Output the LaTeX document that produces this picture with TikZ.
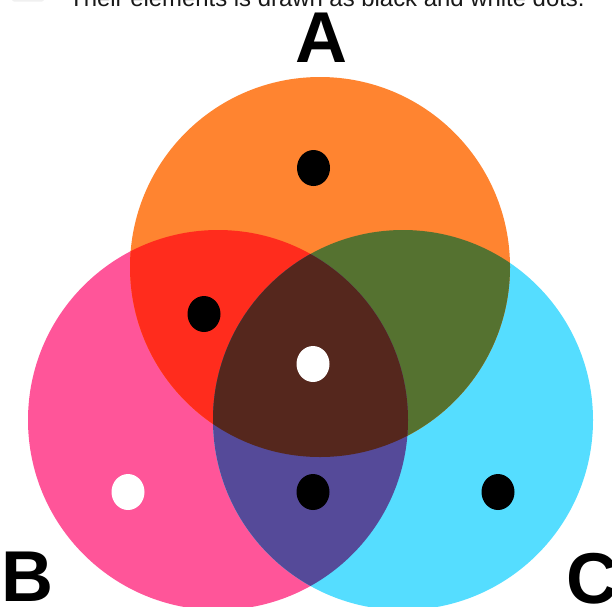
\documentclass[tikz,border=0pt]{standalone}
\usepackage{fontspec}
\setmainfont{Liberation Sans}
\definecolor{cA}{RGB}{255,132,48}
\definecolor{cB}{RGB}{255,85,153}
\definecolor{cC}{RGB}{85,221,255}
\definecolor{cAB}{RGB}{255,44,29}
\definecolor{cAC}{RGB}{85,114,48}
\definecolor{cBC}{RGB}{85,74,153}
\definecolor{cABC}{RGB}{85,39,29}
\tikzset{
  dot/.style={ellipse, minimum width=33pt, minimum height=36pt, inner sep=0pt},
  blackdot/.style={dot, fill=black},
  whitedot/.style={dot, fill=white},
  setlabel/.style={font=\bfseries\fontsize{72}{72}\selectfont, inner sep=0pt, anchor=base},
}
\usetikzlibrary{shapes.geometric}
\begin{document}
\begin{tikzpicture}[x=1pt,y=-1pt]
\useasboundingbox (0,0) rectangle (612,606);
\clip (0,0) rectangle (612,606);
\def\R{190}
\coordinate (A) at (320,267);
\coordinate (B) at (218,420);
\coordinate (C) at (403,420);
% caption (cut off at top)
\fill[gray!12, rounded corners=2pt] (12,-20) rectangle (44,1.5);
\node[anchor=base west, inner sep=0pt, font=\fontsize{23.9}{24}\selectfont, text=black!90] (cap) at (69,6) {Their elements is drawn as black and white dots.};
% circles
\fill[cB] (B) circle (\R);
\fill[cC] (C) circle (\R);
\fill[cA] (A) circle (\R);
\begin{scope}\clip (A) circle (\R); \fill[cAB] (B) circle (\R); \fill[cAC] (C) circle (\R); \end{scope}
\begin{scope}\clip (B) circle (\R); \fill[cBC] (C) circle (\R);
  \clip (C) circle (\R); \fill[cABC] (A) circle (\R); \end{scope}
% dots
\node[blackdot] (a) at (313.5,168) {};
\node[blackdot] (ab) at (204,314) {};
\node[whitedot] (abc) at (313,364) {};
\node[whitedot] (b) at (128,492) {};
\node[blackdot] (bc) at (313,492) {};
\node[blackdot] (c) at (498,492) {};
% labels
\node[setlabel] (la) at (321,62) {A};
\node[setlabel] (lb) at (27,601) {B};
\node[setlabel] (lc) at (592,603) {C};
\end{tikzpicture}
\end{document}
